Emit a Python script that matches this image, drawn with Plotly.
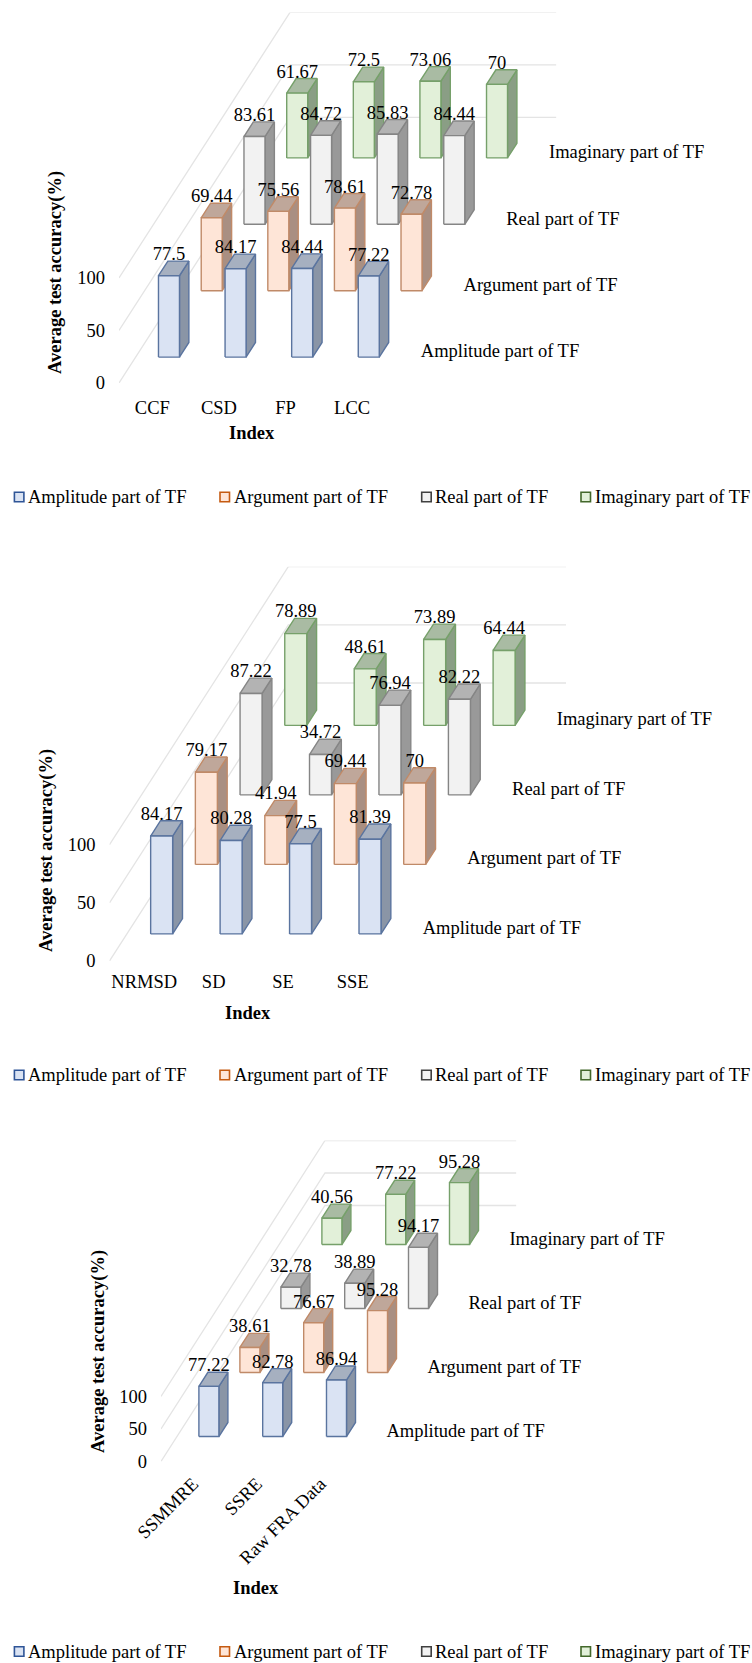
import plotly.graph_objects as go

# ---------- data ----------
series_names = ["Amplitude part of TF", "Argument part of TF", "Real part of TF", "Imaginary part of TF"]

categories_1 = ["CCF", "CSD", "FP", "LCC"]
amplitude_1 = [77.5, 84.17, 84.44, 77.22]
argument_1 = [69.44, 75.56, 78.61, 72.78]
real_1 = [83.61, 84.72, 85.83, 84.44]
imaginary_1 = [61.67, 72.5, 73.06, 70]

categories_2 = ["NRMSD", "SD", "SE", "SSE"]
amplitude_2 = [84.17, 80.28, 77.5, 81.39]
argument_2 = [79.17, 41.94, 69.44, 70]
real_2 = [87.22, 34.72, 76.94, 82.22]
imaginary_2 = [78.89, 48.61, 73.89, 64.44]

categories_3 = ["SSMMRE", "SSRE", "Raw FRA Data"]
amplitude_3 = [77.22, 82.78, 86.94]
argument_3 = [38.61, 76.67, 95.28]
real_3 = [32.78, 38.89, 94.17]
imaginary_3 = [40.56, 77.22, 95.28]

value_ticks = [0, 50, 100]
y_title = "Average test accuracy(%)"
x_title = "Index"

# ---------- styles ----------
W, H = 752, 1663
FONT = "Liberation Serif"
FS = 18.5
GRID = "#e4e4e4"
STYLES = [
    dict(front="#dae3f3", side="#8a95a6", top="#a6b0c0", line="#5a749f", swatch="#2f5597"),
    dict(front="#fee5d7", side="#a98f82", top="#bfa79a", line="#c08a68", swatch="#c55a11"),
    dict(front="#f2f2f2", side="#999999", top="#b3b3b3", line="#858585", swatch="#404040"),
    dict(front="#e2f0d9", side="#8a9e85", top="#a9bba3", line="#76a06a", swatch="#43682b"),
]

# pixel geometry of each panel
PANELS = [
    dict(cats=categories_1, vals=[amplitude_1, argument_1, real_1, imaginary_1],
         x0=119, y0=383, cat_px=66.6, val_px=1.05, dep_x=42.75, dep_y=66.4, bar_px=21,
         tick_standoff=11, angle=0, lab_gap=14,
         ytitle=(56, 273), xtitle=(252, 433.5), legend_y=497),
    dict(cats=categories_2, vals=[amplitude_2, argument_2, real_2, imaginary_2],
         x0=109.5, y0=961, cat_px=69.45, val_px=1.163, dep_x=44.7, dep_y=69.5, bar_px=22,
         tick_standoff=7, angle=0, lab_gap=13,
         ytitle=(47, 851), xtitle=(248, 1013), legend_y=1075),
    dict(cats=categories_3, vals=[amplitude_3, argument_3, real_3, imaginary_3],
         x0=161, y0=1461.5, cat_px=63.8, val_px=0.65, dep_x=41, dep_y=64, bar_px=20,
         tick_standoff=7, angle=-45, lab_gap=13.5,
         ytitle=(98, 1352), xtitle=(256, 1588), legend_y=1651.5),
]
BAR_DEPTH = 0.22
BAR_START = 0.39
LEGEND_X = [14.4, 220, 421.7, 581]

fig = go.Figure()
layout = {}
shapes, annotations = [], []

for p_i, p in enumerate(PANELS):
    sfx = "" if p_i == 0 else str(p_i + 1)
    xa, ya = "x" + sfx, "y" + sfx
    n = len(p["cats"])
    dx = p["dep_x"] / p["cat_px"]           # depth step, in category units
    dy = p["dep_y"] / p["val_px"]           # depth step, in value units
    bw = p["bar_px"] / p["cat_px"]
    gap = (1 - bw) / 2
    x_end = n + 4 * dx
    y_end = 100 + 4 * dy
    common = dict(showgrid=False, zeroline=False, showline=False, ticks="", tickcolor="rgba(0,0,0,0)",
                  tickfont=dict(family=FONT, size=FS, color="#000000"))
    layout["xaxis" + sfx] = dict(
        common, domain=[p["x0"] / W, (p["x0"] + x_end * p["cat_px"]) / W], range=[0, x_end],
        anchor=ya, tickmode="array", tickvals=[i + 0.5 for i in range(n)], ticktext=p["cats"],
        tickangle=p["angle"], ticklabelstandoff=p["tick_standoff"])
    layout["yaxis" + sfx] = dict(
        common, domain=[1 - p["y0"] / H, 1 - (p["y0"] - y_end * p["val_px"]) / H], range=[0, y_end],
        anchor=xa, tickmode="array", tickvals=value_ticks, ticktext=[str(v) for v in value_ticks],
        ticklabelstandoff=13)

    # projected wall and floor grid lines
    gx, gy = [], []
    for v in value_ticks:
        gx += [0, 4 * dx, n + 4 * dx, None]
        gy += [v, v + 4 * dy, v + 4 * dy, None]
    fig.add_trace(go.Scatter(x=gx, y=gy, mode="lines", line=dict(color=GRID, width=1.3), xaxis=xa, yaxis=ya,
                             hoverinfo="skip", showlegend=False, cliponaxis=False))

    lx, ly, lt = [], [], []
    for s in range(3, -1, -1):
        st = STYLES[s]
        fx, fy, sx, sy, tx, ty = [], [], [], [], [], []
        t0 = s + BAR_START
        t1 = t0 + BAR_DEPTH
        for i, v in enumerate(p["vals"][s]):
            u0, u1 = i + gap, i + gap + bw
            ax0, ax1 = u0 + t0 * dx, u1 + t0 * dx
            bx1 = u1 + t1 * dx
            b0, b1 = t0 * dy, t1 * dy
            fx += [ax0, ax1, ax1, ax0, ax0, None]
            fy += [b0, b0, b0 + v, b0 + v, b0, None]
            sx += [ax1, bx1, bx1, ax1, ax1, None]
            sy += [b0, b1, b1 + v, b0 + v, b0, None]
            tx += [ax0, ax1, bx1, u0 + t1 * dx, ax0, None]
            ty += [b0 + v, b0 + v, b1 + v, b1 + v, b0 + v, None]
            lx.append((ax0 + ax1) / 2)
            ly.append(b1 + v + 5.5 / p["val_px"])
            lt.append(f"{v:g}")
        for xs, ys, col in ((sx, sy, st["side"]), (tx, ty, st["top"]), (fx, fy, st["front"])):
            fig.add_trace(go.Scatter(x=xs, y=ys, mode="lines", fill="toself", fillcolor=col,
                                     line=dict(color=st["line"], width=1.4), xaxis=xa, yaxis=ya,
                                     name=series_names[s], hoverinfo="skip", showlegend=False, cliponaxis=False))

    # value labels
    fig.add_trace(go.Scatter(x=lx, y=ly, text=lt, mode="text", textposition="middle center",
                             textfont=dict(family=FONT, size=FS, color="#000000"), xaxis=xa, yaxis=ya,
                             hoverinfo="skip", showlegend=False, cliponaxis=False))
    # depth-axis labels
    fig.add_trace(go.Scatter(x=[n + (s + 0.5) * dx + p["lab_gap"] / p["cat_px"] for s in range(4)],
                             y=[(s + 0.5) * dy - 3 / p["val_px"] for s in range(4)], text=series_names, mode="text",
                             textposition="middle right", textfont=dict(family=FONT, size=FS, color="#000000"),
                             xaxis=xa, yaxis=ya, hoverinfo="skip", showlegend=False, cliponaxis=False))

    # axis titles
    annotations.append(dict(text=f"<b>{y_title}</b>", textangle=-90, xref="paper", yref="paper",
                            x=p["ytitle"][0] / W, y=1 - p["ytitle"][1] / H, xanchor="center", yanchor="middle",
                            showarrow=False, font=dict(family=FONT, size=FS, color="#000000")))
    annotations.append(dict(text=f"<b>{x_title}</b>", xref="paper", yref="paper",
                            x=p["xtitle"][0] / W, y=1 - p["xtitle"][1] / H, xanchor="center", yanchor="middle",
                            showarrow=False, font=dict(family=FONT, size=FS, color="#000000")))
    # legend row
    for s, lx0 in enumerate(LEGEND_X):
        yc = p["legend_y"]
        shapes.append(dict(type="rect", xref="paper", yref="paper", x0=lx0 / W, x1=(lx0 + 9.5) / W,
                           y0=1 - (yc - 4.8) / H, y1=1 - (yc + 4.8) / H, fillcolor=STYLES[s]["front"],
                           line=dict(color=STYLES[s]["swatch"], width=1.6)))
        annotations.append(dict(text=series_names[s], xref="paper", yref="paper", x=(lx0 + 11.5) / W, y=1 - yc / H,
                                xanchor="left", yanchor="middle", showarrow=False,
                                font=dict(family=FONT, size=FS, color="#000000")))

fig.update_layout(width=W, height=H, margin=dict(l=0, r=0, t=0, b=0, autoexpand=False), paper_bgcolor="white",
                  plot_bgcolor="white", showlegend=False, shapes=shapes, annotations=annotations, **layout)
fig.write_html("out.html", config=dict(displayModeBar=False),
               post_script="document.body.style.margin='0';document.documentElement.style.overflow='hidden';")
